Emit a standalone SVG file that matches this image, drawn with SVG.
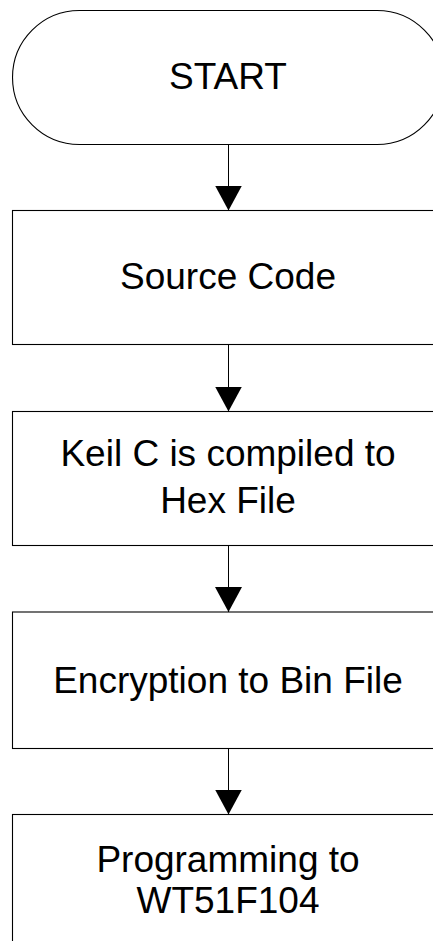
<svg xmlns="http://www.w3.org/2000/svg" width="433" height="941" viewBox="0 0 433 941">
  <style>
    .shape { fill: #fff; stroke: #000; stroke-width: 1.1; }
    .label { font-family: "Liberation Sans", Arial, sans-serif; font-size: 37px; fill: #000; text-anchor: middle; }
    .conn { stroke: #000; stroke-width: 1; fill: none; marker-end: url(#arrow); }
  </style>
  <defs>
    <marker id="arrow" markerUnits="userSpaceOnUse" viewBox="0 -14 25 28" refX="25" refY="0" markerWidth="25" markerHeight="28" orient="auto">
      <path d="M0,-13.5 L25,0 L0,13.5 Z" fill="#000"/>
    </marker>
  </defs>
  <rect width="433" height="941" fill="#fff"/>
  <g id="start">
    <path class="shape" d="M79.5,10.5 H377 A67,67 0 0 1 377,144.5 H79.5 A67,67 0 0 1 79.5,10.5 Z"/>
    <text class="label" x="228" y="89">START</text>
  </g>
  <g id="source-code">
    <rect class="shape" x="12.5" y="210.5" width="432" height="134"/>
    <text class="label" x="228" y="289">Source Code</text>
  </g>
  <g id="compile">
    <rect class="shape" x="12.5" y="411.5" width="432" height="134"/>
    <text class="label" x="228" y="466">Keil C is compiled to</text>
    <text class="label" x="228" y="512.5">Hex File</text>
  </g>
  <g id="encrypt">
    <rect class="shape" x="12.5" y="612" width="432" height="136.5"/>
    <text class="label" x="228" y="693">Encryption to Bin File</text>
  </g>
  <g id="program">
    <rect class="shape" x="12.5" y="814.5" width="432" height="150"/>
    <text class="label" x="228" y="871.5">Programming to</text>
    <text class="label" x="228" y="913">WT51F104</text>
  </g>
  <g id="connectors">
    <line class="conn" x1="228.5" y1="144.5" x2="228.5" y2="210.5"/>
    <line class="conn" x1="228.5" y1="344.5" x2="228.5" y2="411.5"/>
    <line class="conn" x1="228.5" y1="545.5" x2="228.5" y2="612"/>
    <line class="conn" x1="228.5" y1="748.5" x2="228.5" y2="814.5"/>
  </g>
</svg>
